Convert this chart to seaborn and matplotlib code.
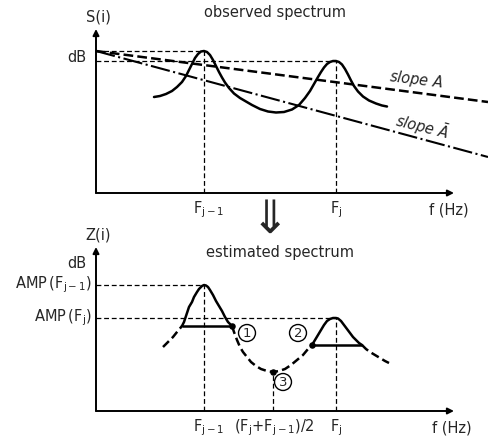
import matplotlib.pyplot as plt
import seaborn as sns

sns.set_style('white')
plt.rcParams['font.family'] = ['DejaVu Sans']
plt.rcParams['mathtext.default'] = 'regular'
plt.rcParams['lines.scale_dashes'] = False
plt.rcParams['lines.solid_joinstyle'] = 'round'
plt.rcParams['lines.dash_joinstyle'] = 'round'

# --- data (frequency units along x, dB units along y) ---
f_prev, f_cur, f_mid = 108, 240, 177

# observed spectrum (top)
obs_f = [58, 64, 70, 76, 81, 86, 90, 93, 96, 99, 102, 105, 108, 111, 114, 117,
         120, 123, 126, 129, 133, 138, 144, 150, 156, 164, 172, 180, 188, 196,
         203, 209, 214, 218, 222, 225, 228, 231, 234, 237, 240, 243, 246, 249,
         252, 255, 258, 262, 267, 273, 280, 286, 291]
obs_db = [96, 97, 99, 102, 106, 111, 117, 123, 129, 135, 139, 141.5, 142, 141,
          138, 133, 127, 121, 115.5, 110.5, 105, 99.5, 95, 91.5, 88, 84, 81.5,
          80.5, 81, 83.5, 88, 95, 102, 109, 116, 121, 125.5, 129, 131, 132, 132,
          131, 128.5, 124, 118.5, 112.5, 107, 101.5, 96.5, 92.5, 89.5, 87.5, 86.5]
top_ref = [142, 132]          # peak levels of observed spectrum
slope_f = [0, 392]
slope_a = [142, 91]           # slope A
slope_abar = [142, 36]        # slope A-bar

# estimated spectrum (bottom)
left_tail_f = [67, 72, 77, 81, 86]
left_tail_db = [64, 69, 74, 79, 85]
peak1_f = [86, 88, 91, 93, 96, 98, 101, 103, 106, 108, 110, 112, 114, 117,
           120, 123, 126, 129, 132, 136]
peak1_db = [85, 89, 98, 104, 109, 114, 119, 122, 125, 126, 125.5, 124, 121,
            116, 110, 105, 100, 94, 89, 85]
valley_f = [136, 138, 141, 144, 147, 151, 155, 160, 165, 171, 177, 183, 189,
            195, 201, 207, 212, 216]
valley_db = [85, 79, 71, 64, 59, 54, 49, 45, 42, 40, 39, 40, 42, 46, 51, 56,
             62, 66]
peak2_f = [216, 219, 222, 225, 228, 231, 234, 237, 240, 242, 245, 248, 251,
           254, 257, 260, 263, 266]
peak2_db = [66, 71, 76, 81, 86, 90, 92, 93, 93, 92.5, 90, 86, 82, 78, 74, 71,
            68, 66]
right_tail_f = [266, 270, 274, 279, 284, 289, 293]
right_tail_db = [66, 62, 59, 56, 53, 50, 48]
amp_prev, amp_cur = 126, 93
pts_f = [136, 216, 177]
pts_db = [85, 66, 39]
pts_lab = ['1', '2', '3']

fig = plt.figure(figsize=(4.88, 4.40), dpi=100)
ax1 = fig.add_axes([96 / 488, 247 / 440, 392 / 488, 193 / 440])
ax2 = fig.add_axes([96 / 488, 29 / 440, 392 / 488, 191 / 440])
ax1.set_xlim(0, 392); ax1.set_ylim(0, 193)
ax2.set_xlim(0, 392); ax2.set_ylim(0, 191)
for ax in (ax1, ax2):
    ax.set_axis_off()
    ax.annotate('', xy=(0, 164), xytext=(0, 0),
                arrowprops=dict(arrowstyle='-|>', lw=1.4, color='black',
                                mutation_scale=9, shrinkA=0, shrinkB=0))
    ax.annotate('', xy=(358, 0), xytext=(0, 0),
                arrowprops=dict(arrowstyle='-|>', lw=1.4, color='black',
                                mutation_scale=9, shrinkA=0, shrinkB=0))

thin = dict(color='black', lw=0.9, linestyle=(0, (3.5, 2)))
fs = 10.5

# ---- top panel ----
ax1.hlines(top_ref[0], 0, f_prev, **thin)
ax1.hlines(top_ref[1], 0, f_cur, **thin)
ax1.vlines(f_prev, 0, top_ref[0], **thin)
ax1.vlines(f_cur, 0, top_ref[1], **thin)
sns.lineplot(x=slope_f, y=slope_a, ax=ax1, color='black', lw=1.8,
             linestyle=(0, (7, 3)), estimator=None, sort=False)
sns.lineplot(x=slope_f, y=slope_abar, ax=ax1, color='black', lw=1.5,
             linestyle=(0, (14, 2.5, 1.5, 2.5)), estimator=None, sort=False)
sns.lineplot(x=obs_f, y=obs_db, ax=ax1, color='black', lw=1.8,
             estimator=None, sort=False)
for ln in ax1.lines:
    ln.set_clip_on(False)

ax1.text(2, 176, 'S(i)', fontsize=fs, ha='center', va='center')
ax1.text(-19, 136, 'dB', fontsize=fs, ha='center', va='center')
ax1.text(179, 181, 'observed spectrum', fontsize=fs, ha='center', va='center')
ax1.text(320, 113, 'slope $\\it{A}$', fontsize=fs, ha='center', va='center',
         rotation=-7, style='italic')
ax1.text(326, 66, 'slope $\\bar{\\it{A}}$', fontsize=fs, ha='center', va='center',
         rotation=-14, style='italic')
ax1.text(f_prev + 5, -17, '$F_{j-1}$', fontsize=fs, ha='center', va='center')
ax1.text(f_cur, -17, '$F_j$', fontsize=fs, ha='center', va='center')
ax1.text(353, -17, 'f (Hz)', fontsize=fs, ha='center', va='center')
ax1.text(174, -27, '\u21d3', fontsize=33, ha='center', va='center',
         family=['DejaVu Sans'])

# ---- bottom panel ----
ax2.hlines(amp_prev, 0, f_prev, **thin)
ax2.hlines(amp_cur, 0, f_cur, **thin)
ax2.vlines(f_prev, 0, amp_prev, **thin)
ax2.vlines(f_mid, 0, pts_db[2], **thin)
ax2.vlines(f_cur, 0, amp_cur, **thin)

dash = (0, (6, 3))
for xs, ys, ls in [(left_tail_f, left_tail_db, dash), (peak1_f, peak1_db, '-'),
                   (valley_f, valley_db, dash), (peak2_f, peak2_db, '-'),
                   (right_tail_f, right_tail_db, dash)]:
    sns.lineplot(x=xs, y=ys, ax=ax2, color='black', lw=1.8, linestyle=ls,
                 estimator=None, sort=False)
ax2.hlines(peak1_db[0], peak1_f[0], peak1_f[-1], color='black', lw=1.8)
ax2.hlines(peak2_db[0], peak2_f[0], peak2_f[-1], color='black', lw=1.8)
sns.scatterplot(x=pts_f, y=pts_db, ax=ax2, color='black', s=22, linewidth=0)

lab_f = [151, 202, 187]
lab_db = [78, 78, 29]
for x, y, t in zip(lab_f, lab_db, pts_lab):
    ax2.text(x, y, t, fontsize=9.5, ha='center', va='center',
             bbox=dict(boxstyle='circle,pad=0.15', fc='white', ec='black', lw=1))

ax2.text(2, 176, 'Z(i)', fontsize=fs, ha='center', va='center')
ax2.text(-19, 148, 'dB', fontsize=fs, ha='center', va='center')
ax2.text(184, 159, 'estimated spectrum', fontsize=fs, ha='center', va='center')
ax2.text(-4, amp_prev, 'AMP$\\,(F_{j-1})$', fontsize=fs, ha='right', va='center')
ax2.text(-4, amp_cur, 'AMP$\\,(F_j)$', fontsize=fs, ha='right', va='center')
ax2.text(f_prev + 5, -17, '$F_{j-1}$', fontsize=fs, ha='center', va='center')
ax2.text(f_mid + 1, -17, '$(F_j$+$F_{j-1})/2$', fontsize=fs, ha='center', va='center')
ax2.text(f_cur, -17, '$F_j$', fontsize=fs, ha='center', va='center')
ax2.text(356, -17, 'f (Hz)', fontsize=fs, ha='center', va='center')

fig.savefig('out.png', dpi=100, facecolor='white')
